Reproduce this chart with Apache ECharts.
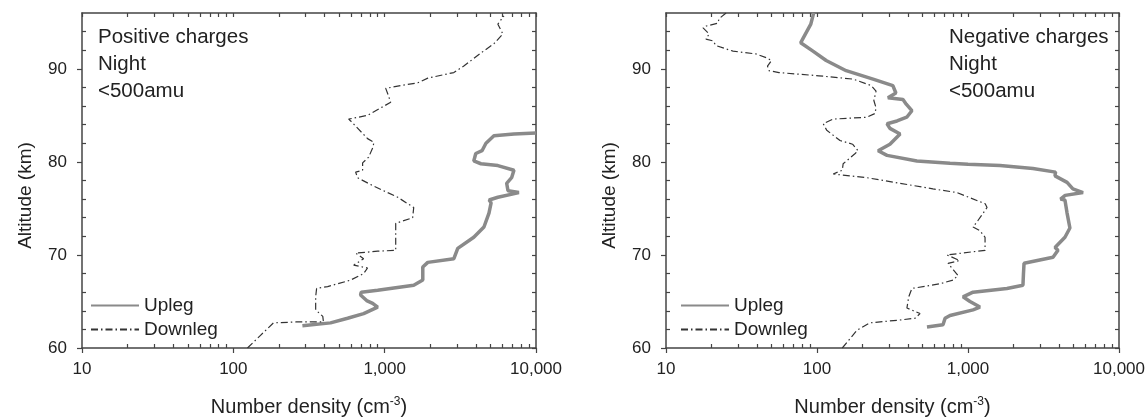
<!DOCTYPE html>
<html>
<head>
<meta charset="utf-8">
<script src="https://cdn.jsdelivr.net/npm/echarts@6/dist/echarts.min.js"></script>
<style>
html,body{margin:0;padding:0;background:#fff;}
#chart{width:1148px;height:418px;}
</style>
</head>
<body>
<div id="chart"></div>
<script>
// ---- data: [number density (cm^-3), altitude (km)] ----
const xTicks = [10, 100, 1000, 10000];
const xMinorTicks = [20,30,40,50,60,70,80,90,200,300,400,500,600,700,800,900,2000,3000,4000,5000,6000,7000,8000,9000];
const yTicks = [60, 70, 80, 90];
const yMinorTicks = [62,64,66,68,72,74,76,78,82,84,86,88,92,94];
const seriesNames = ['Upleg', 'Downleg'];
const panelLabels = ['Positive charges\nNight\n<500amu', 'Negative charges\nNight\n<500amu'];

const posUpleg = [[286,62.4],[439,62.7],[569,63.2],[726,63.7],[899,64.4],[833,64.8],[760,65.1],[693,65.7],[700,66.0],[899,66.2],[1556,66.75],[1786,67.3],[1786,68.7],[1927,69.2],[2866,69.6],[3040,70.7],[3880,71.9],[4530,73.0],[4890,74.5],[5050,75.6],[4900,75.9],[5600,76.2],[7710,76.7],[6530,76.9],[6400,77.7],[6900,78.3],[7150,79.1],[5600,79.6],[4325,79.8],[3880,80.1],[4000,80.9],[4400,81.2],[4670,82.0],[5272,82.8],[7150,83.0],[10000,83.1]];

const posDownleg = [[124,60.0],[150,61.3],[184,62.7],[260,62.8],[394,62.8],[390,63.4],[350,64.1],[350,65.5],[355,66.4],[420,66.6],[596,67.3],[726,68.0],[771,68.6],[624,68.9],[726,69.6],[643,70.2],[900,70.4],[1183,70.5],[1183,72.0],[1183,73.4],[1531,74.0],[1556,75.1],[1219,76.2],[984,76.9],[800,77.6],[662,78.3],[643,78.9],[715,79.1],[715,79.9],[783,80.5],[833,81.5],[850,82.1],[771,82.5],[596,84.4],[578,84.6],[771,85.0],[942,85.8],[1096,86.4],[1060,87.1],[1016,87.9],[1276,88.2],[1654,88.5],[1927,89.0],[2866,89.6],[3334,90.3],[4325,91.7],[5272,92.7],[6040,93.75],[5600,94.8],[6138,95.7]];

const negUpleg = [[535,62.25],[683,62.5],[705,63.2],[760,63.5],[1080,64.1],[1199,64.4],[1031,65.0],[927,65.5],[920,65.7],[1080,66.0],[1811,66.4],[2312,66.75],[2330,68.0],[2350,69.1],[2400,69.2],[3656,69.75],[3945,70.5],[3770,70.8],[4385,71.9],[4730,72.9],[4530,74.5],[4385,75.9],[4100,76.0],[4400,76.4],[5780,76.7],[4950,77.1],[4530,77.8],[3770,78.5],[3800,78.9],[2692,79.3],[1630,79.6],[1000,79.75],[760,79.85],[459,80.1],[291,80.7],[254,81.2],[304,81.9],[355,83.0],[304,83.6],[291,84.1],[339,84.4],[393,84.8],[425,85.5],[390,86.2],[371,86.7],[295,86.9],[333,87.4],[318,88.2],[235,88.9],[156,89.8],[115,90.9],[94,91.9],[78,92.8],[81,93.3],[91,94.8],[94,95.7],[95,96]];

const negDownleg = [[147,60.0],[184,61.9],[224,62.7],[350,63.0],[446,63.2],[481,63.7],[394,64.3],[405,65.5],[425,66.4],[652,66.9],[796,67.3],[859,67.8],[800,68.4],[738,69.1],[880,69.4],[725,70.0],[1297,70.5],[1297,71.9],[1199,72.6],[1080,73.0],[1164,73.7],[1230,74.25],[1337,75.1],[1300,75.5],[845,76.7],[586,77.1],[355,77.7],[214,78.3],[128,78.7],[147,79.1],[149,79.8],[179,80.9],[187,81.2],[172,81.9],[142,82.3],[116,83.4],[110,84.1],[128,84.6],[214,84.8],[242,85.2],[246,85.8],[238,86.6],[246,87.6],[229,88.2],[173,88.9],[103,89.25],[56,89.6],[48,89.8],[47,90.3],[50,90.9],[46,91.2],[39.5,91.6],[27.8,91.9],[21.4,92.5],[20.5,93.0],[18.4,93.2],[19.3,93.75],[17.6,94.4],[18.5,94.6],[22,94.9],[22.5,95.4],[25,96]];

// ---- chart ----
const FONT = '"Liberation Sans", Arial, sans-serif';
const AX = '#444';
const TXT = '#222';
const fmt = v => String(v).replace(/\B(?=(\d{3})+(?!\d))/g, ',');

const grids = [
  {left: 82, right: 612, top: 13, bottom: 70, outerBoundsMode: 'none'},
  {left: 666, right: 29, top: 13, bottom: 70, outerBoundsMode: 'none'}
];

const xAxes = [], yAxes = [];
grids.forEach((g, gi) => {
  const base = {type: 'log', logBase: 10, gridIndex: gi, min: 10, max: 10000, splitLine: {show: false}, minorTick: {show: false}};
  xAxes.push(Object.assign({}, base, {
    position: 'bottom',
    axisLine: {show: true, onZero: false, lineStyle: {color: AX, width: 1.5}},
    axisTick: {show: true, inside: false, length: 5, customValues: xTicks, lineStyle: {color: AX, width: 1.2}},
    axisLabel: {show: true, customValues: xTicks, formatter: fmt, fontSize: 17, color: TXT, margin: 13, fontFamily: FONT},
    name: '{a|Number density (cm}{b|-3}{a|)}',
    nameLocation: 'middle', nameGap: 48,
    nameTextStyle: {fontFamily: FONT, rich: {
      a: {fontSize: 20, color: TXT, fontFamily: FONT, lineHeight: 22},
      b: {fontSize: 12, color: TXT, fontFamily: FONT, verticalAlign: 'top', lineHeight: 12}
    }}
  }));
  xAxes.push(Object.assign({}, base, {
    position: 'bottom',
    axisLine: {show: false, onZero: false},
    axisTick: {show: true, inside: true, length: 4, customValues: xMinorTicks, lineStyle: {color: AX, width: 1.2}},
    axisLabel: {show: false}
  }));
  xAxes.push(Object.assign({}, base, {
    position: 'top',
    axisLine: {show: true, onZero: false, lineStyle: {color: AX, width: 1.5}},
    axisTick: {show: true, inside: true, length: 4, customValues: xTicks.concat(xMinorTicks), lineStyle: {color: AX, width: 1.2}},
    axisLabel: {show: false}
  }));

  const ybase = {type: 'value', gridIndex: gi, min: 60, max: 96, splitLine: {show: false}};
  yAxes.push(Object.assign({}, ybase, {
    position: 'left',
    axisLine: {show: true, onZero: false, lineStyle: {color: AX, width: 1.5}},
    axisTick: {show: true, inside: false, length: 5, customValues: yTicks, lineStyle: {color: AX, width: 1.2}},
    axisLabel: {show: true, customValues: yTicks, fontSize: 17, color: TXT, margin: 15, fontFamily: FONT},
    name: 'Altitude (km)', nameLocation: 'middle', nameGap: 47, nameRotate: 90,
    nameTextStyle: {fontSize: 19, color: TXT, fontFamily: FONT, padding: [0, 30, 0, 0]}
  }));
  yAxes.push(Object.assign({}, ybase, {
    position: 'left',
    axisLine: {show: false, onZero: false},
    axisTick: {show: true, inside: true, length: 4, customValues: yMinorTicks, lineStyle: {color: AX, width: 1.2}},
    axisLabel: {show: false}
  }));
  yAxes.push(Object.assign({}, ybase, {
    position: 'right',
    axisLine: {show: true, onZero: false, lineStyle: {color: AX, width: 1.5}},
    axisTick: {show: true, inside: true, length: 4, customValues: yTicks.concat(yMinorTicks), lineStyle: {color: AX, width: 1.2}},
    axisLabel: {show: false}
  }));
});

const upStyle = {color: '#8a8a8a', width: 3.5};
const downStyle = {color: '#333', width: 1.2, type: [7, 3, 1.5, 3]};
const mk = (name, data, gi, ls) => ({
  type: 'line', name, data, xAxisIndex: gi * 3, yAxisIndex: gi * 3,
  symbol: 'none', showSymbol: false, lineStyle: ls, itemStyle: {color: ls.color},
  clip: true, animation: false
});

const legendBase = {
  data: seriesNames, top: 296, orient: 'vertical', padding: 0,
  itemWidth: 48, itemHeight: 14, itemGap: 5,
  itemStyle: {opacity: 0, borderWidth: 0},
  textStyle: {fontSize: 19, color: TXT, fontFamily: FONT}
};

const option = {
  animation: false,
  textStyle: {fontFamily: FONT},
  grid: grids,
  xAxis: xAxes,
  yAxis: yAxes,
  title: [
    {text: panelLabels[0], left: 98, top: 24, padding: 0, textStyle: {fontSize: 20.5, fontWeight: 'normal', color: TXT, lineHeight: 27, fontFamily: FONT}},
    {text: panelLabels[1], left: 949, top: 24, padding: 0, textStyle: {fontSize: 20.5, fontWeight: 'normal', color: TXT, lineHeight: 27, fontFamily: FONT}}
  ],
  legend: [
    Object.assign({left: 90}, legendBase),
    Object.assign({left: 680}, legendBase)
  ],
  series: [
    mk(seriesNames[0], posUpleg, 0, upStyle),
    mk(seriesNames[1], posDownleg, 0, downStyle),
    mk(seriesNames[0], negUpleg, 1, upStyle),
    mk(seriesNames[1], negDownleg, 1, downStyle)
  ]
};

const chart = echarts.init(document.getElementById('chart'), null, {renderer: 'canvas'});
chart.setOption(option);
</script>
</body>
</html>
